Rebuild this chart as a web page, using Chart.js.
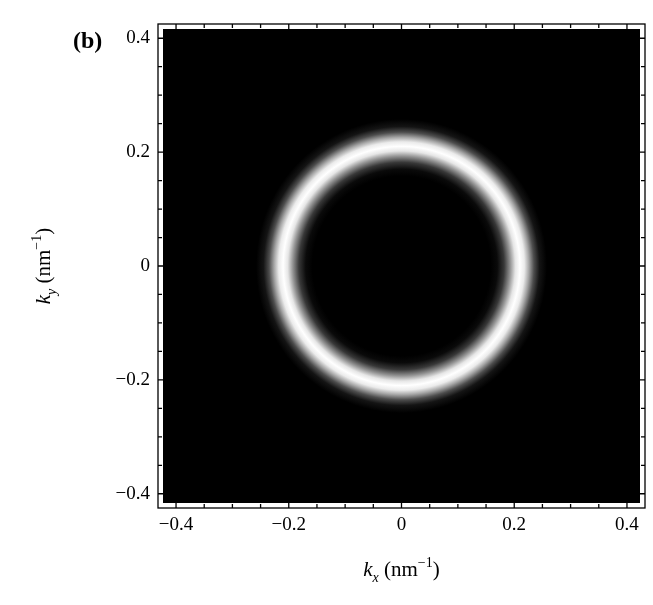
<!DOCTYPE html>
<html><head><meta charset="utf-8">
<script src="https://cdn.jsdelivr.net/npm/chart.js@4.4.0/dist/chart.umd.min.js"></script>
<style>body{margin:0;background:#fff}#wrap{width:653px;height:605px}</style>
</head><body><div id="wrap"><canvas id="c"></canvas></div>
<script>
// tick values shown on both axes
var tickValues = [-0.4, -0.2, 0, 0.2, 0.4];
// radial intensity profile of the ring (k in nm^-1, 0..1 brightness)
var profileRadius = [0, 0.158, 0.170, 0.182, 0.193, 0.202, 0.210, 0.218, 0.226, 0.235, 0.245, 0.258, 0.5];
var profileLevel  = [0, 0,     0.04,  0.22,  0.58,  0.90,  1.00,  0.92,  0.65,  0.30,  0.08,  0,     0];

var FONT = '"Liberation Serif", "DejaVu Serif", serif';

function fmt(v){ return v === 0 ? '0' : (v < 0 ? '\u2212' : '') + Math.abs(v).toFixed(1); }

var densityPlugin = {
  id: 'density',
  beforeDatasetsDraw: function(chart){
    var ctx = chart.ctx, a = chart.chartArea, sx = chart.scales.x, sy = chart.scales.y;
    ctx.save();
    ctx.fillStyle = '#000';
    ctx.fillRect(a.left + 5, a.top + 5, a.right - a.left - 10, a.bottom - a.top - 10);
    ctx.beginPath();
    ctx.rect(a.left + 5, a.top + 5, a.right - a.left - 10, a.bottom - a.top - 10);
    ctx.clip();
    var cx = sx.getPixelForValue(0), cy = sy.getPixelForValue(0);
    var rx = sx.getPixelForValue(0.5) - cx, ry = cy - sy.getPixelForValue(0.5);
    ctx.translate(cx, cy);
    ctx.scale(1, ry / rx);
    var g = ctx.createRadialGradient(0, 0, 0, 0, 0, rx);
    for (var i = 0; i < profileRadius.length; i++) {
      var c = Math.round(255 * profileLevel[i]);
      g.addColorStop(profileRadius[i] / 0.5, 'rgb(' + c + ',' + c + ',' + c + ')');
    }
    ctx.fillStyle = g;
    ctx.beginPath(); ctx.arc(0, 0, rx, 0, Math.PI * 2); ctx.fill();
    ctx.restore();
  },
  afterDraw: function(chart){
    var ctx = chart.ctx, a = chart.chartArea, sx = chart.scales.x, sy = chart.scales.y;
    ctx.save();
    ctx.strokeStyle = '#000'; ctx.lineWidth = 1.3;
    ctx.strokeRect(a.left, a.top, a.right - a.left, a.bottom - a.top);
    // inward ticks, major every 0.2, minor every 0.05
    for (var k = -8; k <= 8; k++) {
      var v = k * 0.05, major = (k % 4 === 0), len = major ? 7 : 4;
      var px = sx.getPixelForValue(v), py = sy.getPixelForValue(v);
      ctx.beginPath();
      ctx.moveTo(px, a.bottom); ctx.lineTo(px, a.bottom - len);
      ctx.moveTo(px, a.top); ctx.lineTo(px, a.top + len);
      ctx.moveTo(a.left, py); ctx.lineTo(a.left + len, py);
      ctx.moveTo(a.right, py); ctx.lineTo(a.right - len, py);
      ctx.stroke();
    }
    ctx.fillStyle = '#000';
    ctx.font = '19px ' + FONT;
    tickValues.forEach(function(v){
      ctx.textAlign = 'center'; ctx.textBaseline = 'top';
      ctx.fillText(fmt(v), sx.getPixelForValue(v), a.bottom + 8);
      ctx.textAlign = 'right'; ctx.textBaseline = 'middle';
      ctx.fillText(fmt(v), a.left - 8, sy.getPixelForValue(v));
    });
    // axis titles with subscripts / superscripts
    function title(sub){
      var parts = [['k', 'italic 21px', 0], [sub, 'italic 14px', 6], [' (nm', '21px', 0], ['\u22121', '14px', -9], [')', '21px', 0]];
      var w = 0;
      parts.forEach(function(p){ ctx.font = p[1] + ' ' + FONT; w += ctx.measureText(p[0]).width; });
      var x = -w / 2;
      ctx.textAlign = 'left'; ctx.textBaseline = 'alphabetic';
      parts.forEach(function(p){ ctx.font = p[1] + ' ' + FONT; ctx.fillText(p[0], x, p[2]); x += ctx.measureText(p[0]).width; });
    }
    ctx.save(); ctx.translate((a.left + a.right) / 2, 576); title('x'); ctx.restore();
    ctx.save(); ctx.translate(50, (a.top + a.bottom) / 2); ctx.rotate(-Math.PI / 2); title('y'); ctx.restore();
    ctx.font = 'bold 24px ' + FONT; ctx.textAlign = 'left'; ctx.textBaseline = 'alphabetic';
    ctx.fillText('(b)', 73, 48);
    ctx.restore();
  }
};

new Chart(document.getElementById('c'), {
  type: 'scatter',
  data: { datasets: [{ data: [] }] },
  options: {
    responsive: true, maintainAspectRatio: false, animation: false,
    layout: { padding: { left: 158, top: 24, right: 8, bottom: 97 } },
    plugins: { legend: { display: false }, tooltip: { enabled: false } },
    scales: {
      x: { type: 'linear', min: -0.432, max: 0.432, display: false },
      y: { type: 'linear', min: -0.425, max: 0.425, display: false }
    }
  },
  plugins: [densityPlugin]
});
</script></body></html>
